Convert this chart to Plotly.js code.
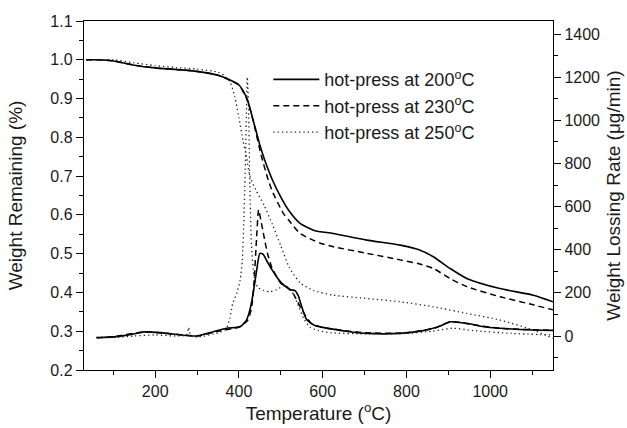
<!DOCTYPE html>
<html>
<head>
<meta charset="utf-8">
<script src="https://cdn.plot.ly/plotly-3.0.1.min.js"></script>
<style>html,body{margin:0;padding:0;background:#fff;}#chart{width:627px;height:428px;}</style>
</head>
<body>
<div id="chart"></div>
<script>
// Legend labels
const seriesNames = ["hot-press at 200<sup>o</sup>C", "hot-press at 230<sup>o</sup>C", "hot-press at 250<sup>o</sup>C"];

// TG curves (weight remaining, left axis)
const tg200T = [35, 60, 100, 150, 200, 250, 300, 350, 380, 400, 410, 420, 430, 440, 450, 460, 480, 500, 520, 546, 580, 625, 705, 785, 830, 864, 904, 944, 1023, 1103, 1150];
const tg200W = [1.0, 1.0, 0.997, 0.986, 0.979, 0.975, 0.970, 0.960, 0.947, 0.935, 0.92, 0.898, 0.86, 0.82, 0.78, 0.746, 0.69, 0.646, 0.610, 0.578, 0.56, 0.552, 0.535, 0.522, 0.510, 0.492, 0.462, 0.436, 0.410, 0.393, 0.376];

const tg230T = [35, 60, 100, 150, 200, 250, 300, 350, 380, 400, 410, 420, 430, 440, 454, 470, 480, 506, 520, 546, 594, 625, 705, 785, 830, 864, 904, 944, 1023, 1103, 1150];
const tg230W = [1.0, 1.0, 0.997, 0.986, 0.979, 0.975, 0.970, 0.960, 0.947, 0.935, 0.918, 0.895, 0.86, 0.815, 0.75, 0.69, 0.66, 0.604, 0.585, 0.552, 0.527, 0.518, 0.501, 0.484, 0.474, 0.462, 0.436, 0.415, 0.389, 0.368, 0.355];

const tg250T = [35, 60, 100, 150, 200, 250, 300, 350, 370, 380, 390, 400, 410, 418, 426, 440, 460, 480, 500, 520, 546, 578, 625, 700, 785, 864, 944, 1023, 1103, 1150];
const tg250W = [1.0, 1.0, 1.0, 0.992, 0.985, 0.980, 0.976, 0.968, 0.955, 0.94, 0.905, 0.85, 0.79, 0.75, 0.70, 0.665, 0.625, 0.575, 0.52, 0.465, 0.425, 0.405, 0.393, 0.385, 0.376, 0.363, 0.346, 0.329, 0.303, 0.282];

// DTG curves (weight losing rate, right axis)
const dtg200T = [60, 108, 148, 172, 204, 243, 299, 339, 371, 403, 418, 426, 434, 442, 450, 458, 466, 478, 490, 502, 514, 524, 534, 542, 550, 562, 580, 600, 665, 705, 785, 840, 864, 885, 904, 944, 984, 1023, 1103, 1150];
const dtg200V = [-8, -3, 9, 19, 17, 9, 0, 20, 36, 43, 74, 120, 198, 300, 383, 378, 350, 310, 275, 245, 226, 214, 210, 185, 136, 75, 50, 40, 20, 12, 12, 25, 36, 50, 66, 59, 43, 36, 28, 26];

const dtg230T = [60, 100, 170, 200, 250, 300, 350, 400, 420, 430, 436, 442, 447, 452, 458, 464, 470, 478, 490, 500, 518, 530, 545, 560, 575, 600, 700, 800, 870, 905, 950, 1023, 1150];
const dtg230V = [-8, -3, 18, 17, 8, 0, 22, 42, 70, 130, 250, 450, 585, 540, 480, 420, 370, 321, 275, 245, 221, 195, 140, 90, 55, 40, 15, 15, 38, 66, 55, 36, 26];

const dtg250T = [60, 100, 150, 200, 250, 275, 280, 285, 300, 350, 370, 378, 385, 395, 403, 408, 412, 416, 420, 423, 426, 430, 436, 445, 458, 474, 490, 510, 525, 540, 555, 570, 590, 620, 700, 800, 860, 910, 960, 1050, 1150];
const dtg250V = [-5, -8, 0, 5, 0, 5, 40, 0, -5, 15, 35, 80, 150, 200, 260, 350, 550, 850, 1200, 1050, 700, 420, 280, 225, 212, 205, 215, 235, 210, 150, 80, 40, 25, 15, 10, 12, 22, 36, 25, 12, 5];

const styles = [
  {color: '#000', width: 1.6, dash: 'solid'},
  {color: '#000', width: 1.5, dash: '6px,4px'},
  {color: '#222', width: 1.3, dash: '1.3px,3px'}
];

const tgT = [tg200T, tg230T, tg250T];
const tgW = [tg200W, tg230W, tg250W];
const dtgT = [dtg200T, dtg230T, dtg250T];
const dtgV = [dtg200V, dtg230V, dtg250V];

const traces = [];
for (let i = 0; i < 3; i++) {
  traces.push({
    x: tgT[i], y: tgW[i], type: 'scatter', mode: 'lines', name: seriesNames[i],
    line: Object.assign({shape: 'spline', smoothing: 0.6}, styles[i]),
    legendgroup: 'g' + i, showlegend: true, xaxis: 'x', yaxis: 'y'
  });
  traces.push({
    x: dtgT[i], y: dtgV[i], type: 'scatter', mode: 'lines', name: seriesNames[i],
    line: Object.assign({shape: 'spline', smoothing: 0.6}, styles[i]),
    legendgroup: 'g' + i, showlegend: false, xaxis: 'x', yaxis: 'y2'
  });
}

const fontFam = 'Liberation Sans, Arial, Helvetica, sans-serif';
const txt = '#1a1a1a';
const layout = {
  width: 627, height: 428,
  margin: {l: 84, r: 74, t: 21, b: 58},
  paper_bgcolor: '#fff', plot_bgcolor: '#fff',
  font: {family: fontFam, size: 16, color: txt},
  showlegend: true,
  legend: {x: 0.393, y: 0.885, xanchor: 'left', yanchor: 'top', bgcolor: 'rgba(0,0,0,0)',
           itemwidth: 46,
           font: {family: fontFam, size: 18, color: txt}, tracegroupgap: 0},
  xaxis: {
    range: [30, 1150], dtick: 200, tick0: 0, ticks: 'outside', ticklen: 7, tickwidth: 1, tickcolor: '#000',
    showline: true, linecolor: '#000', linewidth: 1.2, mirror: true, showgrid: false, zeroline: false,
    minor: {dtick: 100, tick0: 0, ticks: 'outside', ticklen: 4, tickcolor: '#000', showgrid: false},
    title: {text: 'Temperature (<sup>o</sup>C)', font: {family: fontFam, size: 19, color: txt}, standoff: 6},
    tickfont: {family: fontFam, size: 16, color: txt}
  },
  yaxis: {
    range: [0.2, 1.1], dtick: 0.1, tick0: 0, ticks: 'outside', ticklen: 7, tickwidth: 1, tickcolor: '#000',
    tickformat: '.1f',
    showline: true, linecolor: '#000', linewidth: 1.2, showgrid: false, zeroline: false,
    minor: {dtick: 0.05, tick0: 0, ticks: 'outside', ticklen: 4, tickcolor: '#000', showgrid: false},
    title: {text: 'Weight Remaining (%)', font: {family: fontFam, size: 19, color: txt}, standoff: 22},
    tickfont: {family: fontFam, size: 16, color: txt}
  },
  yaxis2: {
    range: [-157.6, 1460.3], dtick: 200, tick0: 0, ticks: 'outside', ticklen: 7, tickwidth: 1, tickcolor: '#000',
    overlaying: 'y', side: 'right', anchor: 'x',
    showline: true, linecolor: '#000', linewidth: 1.2, showgrid: false, zeroline: false,
    minor: {dtick: 100, tick0: 0, ticks: 'outside', ticklen: 4, tickcolor: '#000', showgrid: false},
    title: {text: 'Weight Lossing Rate (\u03bcg/min)', font: {family: fontFam, size: 19, color: txt}, standoff: 7},
    tickfont: {family: fontFam, size: 16, color: txt}
  }
};

Plotly.newPlot('chart', traces, layout, {staticPlot: true, displayModeBar: false});
</script>
</body>
</html>
